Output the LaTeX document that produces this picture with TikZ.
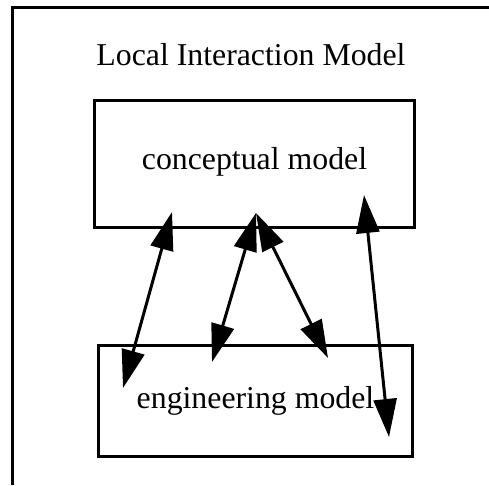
\documentclass[tikz,border=0pt]{standalone}
\usepackage{fontspec}
\setmainfont{Liberation Serif}
\usetikzlibrary{arrows.meta}

\tikzset{
  modelbox/.style={draw, line width=3pt, inner sep=0pt},
  link/.style={<->, line width=3pt},
  >={Triangle[length=38pt,width=23pt]}
}

\begin{document}
\begin{tikzpicture}[x=1pt, y=-1pt, font=\fontsize{31.8}{36}\selectfont]
                \useasboundingbox (0,0) rectangle (489,485);

                % Frame
                \draw[line width=3pt] (12.5,485) -- (12.5,7.5) -- (489,7.5);

                % Nodes
                \node[anchor=base] (title) at (251,65) {Local Interaction Model};
                \node[modelbox, minimum width=320pt, minimum height=127pt,
                      text height=22pt, text depth=12pt] (concept) at (254.5,164) {conceptual model};
                \node[modelbox, minimum width=314pt, minimum height=111pt,
                      text height=22pt, text depth=8pt] (engineer) at (255.5,401) {engineering model};

                \coordinate (c1) at (172,212);
                \coordinate (c2) at (256,213);
                \coordinate (c3) at (364,195);
                \coordinate (e1) at (123,388);
                \coordinate (e2) at (212,362);
                \coordinate (e3) at (328,358);
                \coordinate (e4) at (389,437);

                % Edges
                \draw[link] (c1)--(e1);
                \draw[link] (c2)--(e2);
                \draw[link] (c2)--(e3);
                \draw[link] (c3)--(e4);
\end{tikzpicture}
\end{document}
